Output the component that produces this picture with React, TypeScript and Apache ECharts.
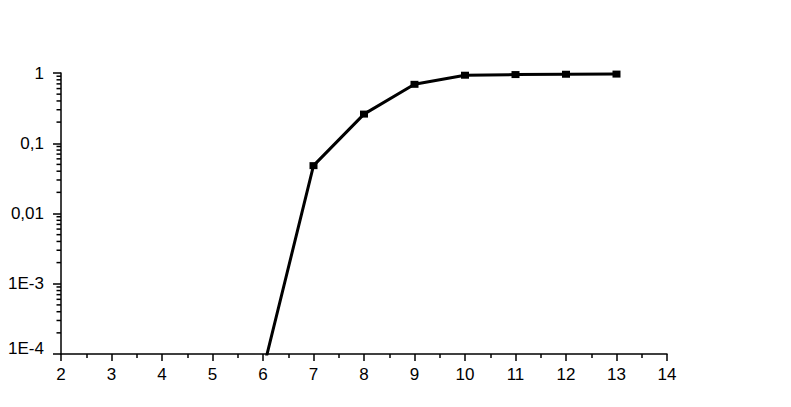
import React, { useEffect, useRef } from "react";
import * as echarts from "echarts";

const xValues = [6, 7, 8, 9, 10, 11, 12, 13];
const yValues = [0.000058, 0.048, 0.26, 0.69, 0.93, 0.95, 0.96, 0.965];
const yTickLabels = ["1E-4", "1E-3", "0,01", "0,1", "1"]; // for 10^-4 .. 10^0
const yMinorTickValues: number[] = [];
for (let e = -4; e < 0; e++) {
  for (let m = 2; m <= 9; m++) {
    yMinorTickValues.push(m * Math.pow(10, e));
  }
}

export default function App() {
  const ref = useRef<HTMLDivElement>(null);
  useEffect(() => {
    if (!ref.current) return;
    const chart = echarts.init(ref.current, null, { renderer: "svg" });
    const font = "Arial, 'Liberation Sans', sans-serif";
    chart.setOption({
      animation: false,
      backgroundColor: "#ffffff",
      grid: { left: 61, right: 124, top: 73, bottom: 53, containLabel: false },
      xAxis: {
        type: "value",
        min: 2,
        max: 14,
        interval: 1,
        axisLine: { show: true, onZero: false, lineStyle: { color: "#000", width: 1.5 } },
        axisTick: { show: true, inside: false, length: 7, lineStyle: { color: "#000", width: 1.5 } },
        minorTick: { show: true, splitNumber: 2, length: 4, lineStyle: { color: "#000", width: 1.5 } },
        splitLine: { show: false },
        minorSplitLine: { show: false },
        axisLabel: { color: "#000", fontSize: 17, fontFamily: font, margin: 12 },
      },
      yAxis: {
        type: "log",
        logBase: 10,
        min: 0.0001,
        max: 1,
        axisLine: { show: true, onZero: false, lineStyle: { color: "#000", width: 1.5 } },
        axisTick: { show: true, inside: false, length: 8, lineStyle: { color: "#000", width: 1.5 } },
        splitLine: { show: false },
        axisLabel: {
          color: "#000",
          fontSize: 17,
          fontFamily: font,
          margin: 17,
          formatter: (v: number) => {
            const e = Math.round(Math.log10(v));
            const t = yTickLabels[e + 4] ?? "";
            return e === -4 ? "{lo|" + t + "}" : t;
          },
          rich: {
            lo: { fontSize: 17, fontFamily: font, color: "#000", padding: [0, 0, 12, 0] },
          },
        },
      },
      series: [
        {
          type: "custom",
          silent: true,
          data: yMinorTickValues.map((v) => [2, v]),
          encode: { x: 0, y: 1 },
          renderItem: (params: any, api: any) => {
            const p = api.coord([2, api.value(1)]);
            return {
              type: "line",
              shape: { x1: p[0] - 4.5, y1: p[1], x2: p[0], y2: p[1] },
              style: { stroke: "#000", lineWidth: 1.5 },
            };
          },
          z: 1,
        },
        {
          type: "line",
          data: xValues.map((x, i) => [x, yValues[i]]),
          symbol: "rect",
          symbolSize: [8, 7],
          showSymbol: true,
          clip: true,
          lineStyle: { color: "#000", width: 3 },
          itemStyle: { color: "#000" },
          z: 3,
        },
      ],
    });
    return () => chart.dispose();
  }, []);
  return (
    <div
      ref={ref}
      style={{ position: "fixed", left: 0, top: 0, width: 791, height: 407 }}
    />
  );
}
